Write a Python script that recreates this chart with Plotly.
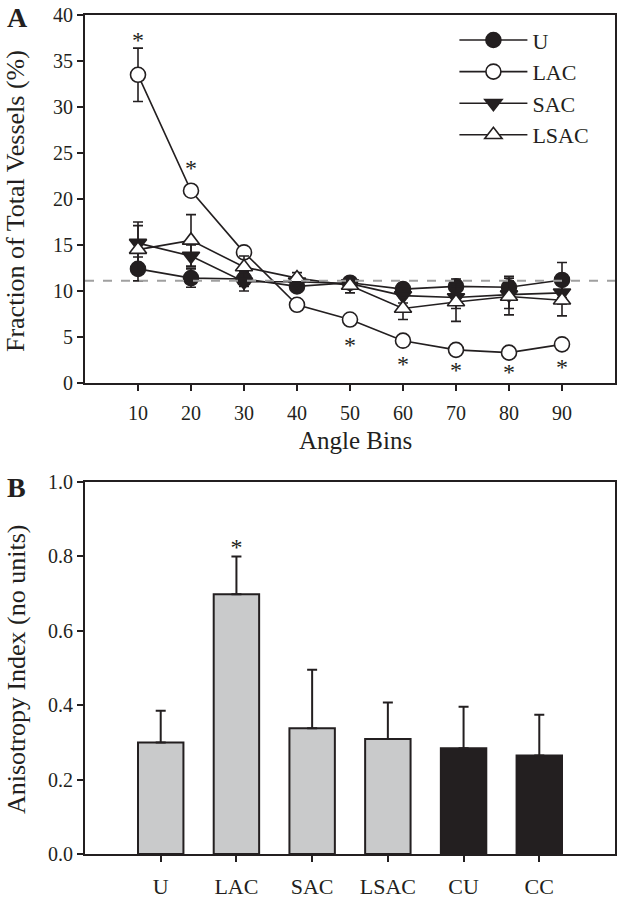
import plotly.graph_objects as go

# panel A: fraction of total vessels per angle bin
angle_bins = [10, 20, 30, 40, 50, 60, 70, 80, 90]
u_mean = [12.4, 11.4, 11.3, 10.5, 10.9, 10.2, 10.5, 10.4, 11.2]
u_err = [1.3, 1.0, 0.8, 0.5, 0.5, 0.6, 0.8, 1.2, 1.9]
lac_mean = [33.5, 20.9, 14.2, 8.5, 6.9, 4.6, 3.6, 3.3, 4.2]
lac_err = [2.9, 0.4, 0.4, 0.3, 0.3, 0.3, 0.3, 0.3, 0.3]
sac_mean = [15.2, 13.8, 11.0, 11.0, 10.8, 9.5, 9.3, 9.6, 9.8]
sac_err = [2.3, 1.2, 1.0, 0.6, 0.6, 0.8, 1.2, 1.5, 1.2]
lsac_mean = [14.5, 15.5, 12.6, 11.4, 10.6, 8.1, 8.8, 9.4, 9.0]
lsac_err = [2.6, 2.8, 1.2, 0.6, 0.8, 1.2, 2.1, 2.0, 1.7]
uniform_level = 100 / 9
star_x_a = [10, 20, 50, 60, 70, 80, 90]
star_y_a = [37.1, 23.1, 3.9, 1.9, 1.2, 1.0, 1.5]

# panel B: anisotropy index
groups = ["U", "LAC", "SAC", "LSAC", "CU", "CC"]
aniso = [0.30, 0.698, 0.338, 0.309, 0.284, 0.265]
aniso_err = [0.085, 0.102, 0.157, 0.098, 0.112, 0.109]
bar_colors = ["#c9cacb"] * 4 + ["#231f20"] * 2
star_x_b = ["LAC"]
star_y_b = [0.82]

INK = "#231f20"
FONT = "Liberation Serif, Times New Roman, serif"

fig = go.Figure()

series = [
    ("U", u_mean, u_err, "circle", INK),
    ("LAC", lac_mean, lac_err, "circle", "white"),
    ("SAC", sac_mean, sac_err, "triangle-down", INK),
    ("LSAC", lsac_mean, lsac_err, "triangle-up", "white"),
]
for name, y, err, sym, fill in series:
    fig.add_trace(go.Scatter(
        x=angle_bins, y=y, name=name, mode="lines+markers",
        line=dict(color=INK, width=1.6),
        marker=dict(symbol=sym, size=15, color=fill, line=dict(color=INK, width=1.6)),
        error_y=dict(type="data", array=err, color=INK, thickness=1.6, width=5),
        xaxis="x", yaxis="y"))

fig.add_trace(go.Scatter(
    x=star_x_a, y=star_y_a, mode="text", text=["*"] * len(star_x_a),
    textfont=dict(family=FONT, size=24, color=INK), showlegend=False,
    hoverinfo="skip", xaxis="x", yaxis="y"))

fig.add_trace(go.Bar(
    x=groups, y=aniso, marker=dict(color=bar_colors, line=dict(color=INK, width=2)),
    width=0.6, error_y=dict(type="data", array=aniso_err, symmetric=False,
                            arrayminus=[0] * len(aniso), color=INK, thickness=2, width=5),
    showlegend=False, xaxis="x2", yaxis="y2"))

fig.add_trace(go.Scatter(
    x=star_x_b, y=star_y_b, mode="text", text=["*"],
    textfont=dict(family=FONT, size=24, color=INK), showlegend=False,
    hoverinfo="skip", xaxis="x2", yaxis="y2"))

fig.add_shape(type="line", xref="x", yref="y", x0=0, x1=100,
              y0=uniform_level, y1=uniform_level,
              line=dict(color="#a0a0a0", width=2, dash="dash"))

axis_style = dict(showline=True, linecolor=INK, linewidth=2, mirror=True,
                  ticks="outside", ticklen=6, tickwidth=2, tickcolor=INK,
                  showgrid=False, zeroline=False, automargin=False,
                  tickfont=dict(family=FONT, size=20, color=INK))

def label(text, x, y, size, angle=0, bold=False):
    return dict(text="<b>%s</b>" % text if bold else text, x=x, y=y,
                xref="paper", yref="paper", xanchor="center", yanchor="middle",
                textangle=angle, showarrow=False,
                font=dict(family=FONT, size=size, color=INK))

fig.update_layout(
    width=618, height=900,
    margin=dict(l=85, r=3, t=15, b=46),
    paper_bgcolor="white", plot_bgcolor="white",
    font=dict(family=FONT, color=INK),
    xaxis=dict(axis_style, domain=[0, 1], range=[0, 100], tickvals=angle_bins,
               anchor="y", ticklabelstandoff=5),
    yaxis=dict(axis_style, domain=[0.5614, 1], range=[0, 40], dtick=5, anchor="x"),
    xaxis2=dict(axis_style, domain=[0, 1], range=[-1, 6], anchor="y2",
                ticklabelstandoff=6, tickfont=dict(family=FONT, size=22, color=INK)),
    yaxis2=dict(axis_style, domain=[0, 0.4434], range=[0, 1], dtick=0.2,
                tickformat=".1f", anchor="x2"),
    legend=dict(x=0.697, y=0.995, xanchor="left", yanchor="top",
                bgcolor="rgba(0,0,0,0)", font=dict(family=FONT, size=22, color=INK),
                itemwidth=68, tracegroupgap=0),
    annotations=[
        label("A", -0.128, 0.997, 28, bold=True),
        label("B", -0.130, 0.4368, 28, bold=True),
        label("Angle Bins", 0.511, 0.4934, 25),
        label("Fraction of Total Vessels (%)", -0.132, 0.7783, 26, angle=-90),
        label("Anisotropy Index (no units)", -0.130, 0.2205, 26, angle=-90),
    ],
)

fig.write_html("out.html", config={"displayModeBar": False},
               post_script="document.body.style.margin='0';"
                           "document.body.style.overflow='hidden';")
